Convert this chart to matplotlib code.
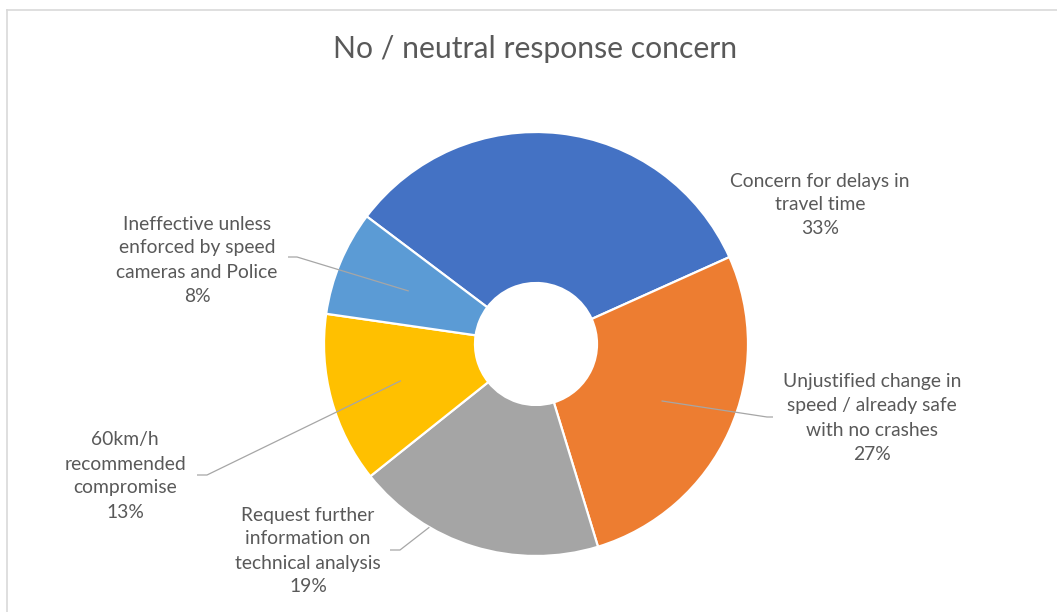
import numpy as np
import matplotlib.pyplot as plt
from matplotlib.lines import Line2D

# ---------------------------------
# Daten
# ---------------------------------
categories = [
    "Concern for delays in\ntravel time",
    "Unjustified change in\nspeed / already safe\nwith no crashes",
    "Request further\ninformation on\ntechnical analysis",
    "60km/h\nrecommended\ncompromise",
    "Ineffective unless\nenforced by speed\ncameras and Police",
]
shares = [33, 27, 19, 13, 8]
colors = ["#4472C4", "#ED7D31", "#A5A5A5", "#FFC000", "#5B9BD5"]
title = "No / neutral response concern"

# ---------------------------------
# Layout (Pixelkoordinaten, y nach unten wie im Bild)
# ---------------------------------
W, H = 1057, 612
cx, cy = 536, 344
R = 212
hole = 61

# Label-Mitte, Leader: (Radiusanteil, Winkelversatz, Knick, Ende) oder None
label_pos = [(820, 205), (872, 418), (308, 551), (125, 476), (197, 260)]
leaders = [
    None,
    (0.65, 0.0, (767, 417), (773, 417)),
    (1.0, -13.0, (400, 550), (390, 550)),
    (0.66, 0.0, (207, 475), (197, 475)),
    (0.65, 0.0, (297, 257), (288, 257)),
]

TXT = "#595959"
plt.rcParams["font.family"] = ["Lato", "DejaVu Sans"]

fig = plt.figure(figsize=(W / 100, H / 100), dpi=100)
ax = fig.add_axes([0, 0, 1, 1])

wedges, _ = ax.pie(
    shares,
    colors=colors,
    startangle=143,
    counterclock=False,
    center=(cx, H - cy),
    radius=R,
    wedgeprops=dict(width=R - hole, edgecolor="white", linewidth=1.6),
)
ax.set_xlim(0, W)
ax.set_ylim(0, H)
ax.set_aspect("equal")
ax.axis("off")

# --- Beschriftungen ---
for i, (lab, val) in enumerate(zip(categories, shares)):
    x, y = label_pos[i]
    ax.text(x, H - y, f"{lab}\n{val}%", ha="center", va="center",
            fontsize=13.9, color=TXT, linespacing=1.5)

    if leaders[i] is None:
        continue
    f, dth, knee, end = leaders[i]
    w = wedges[i]
    mid = np.deg2rad((w.theta1 + w.theta2) / 2 + dth)
    ax0 = cx + f * R * np.cos(mid)
    ay0 = (H - cy) + f * R * np.sin(mid)
    ax.plot([ax0, knee[0], end[0]], [ay0, H - knee[1], H - end[1]],
            color="#A6A6A6", linewidth=0.9, solid_capstyle="butt")

ax.text(535, H - 49, title, ha="center", va="center", fontsize=21.7, color=TXT)

# --- Rahmen ---
fig.add_artist(Line2D([6.5 / W, 6.5 / W], [0, 1 - 9.5 / H],
                      transform=fig.transFigure, color="#D9D9D9", linewidth=1.2))
fig.add_artist(Line2D([6.5 / W, 1], [1 - 9.5 / H, 1 - 9.5 / H],
                      transform=fig.transFigure, color="#D9D9D9", linewidth=1.2))

fig.savefig("out.png", dpi=100, facecolor="white")
